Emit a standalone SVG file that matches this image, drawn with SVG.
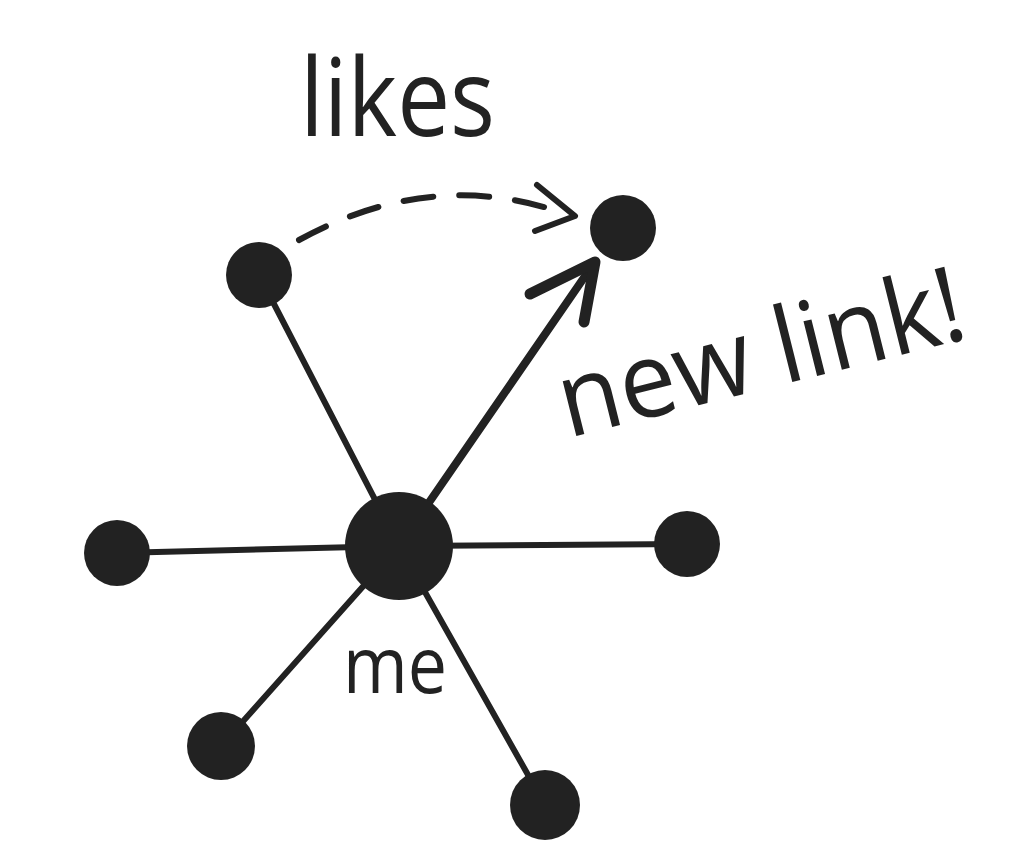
<svg xmlns="http://www.w3.org/2000/svg" width="1024" height="865" viewBox="0 0 1024 865">
<style>
.edge{stroke:#222;stroke-width:6;stroke-linecap:round;fill:none}
.node{fill:#222}
.lbl{font-family:"Open Sans","Liberation Sans",sans-serif;fill:#222}
</style>
<rect width="1024" height="865" fill="#fff"/>
<g id="connectors">
<line class="edge" x1="259" y1="275" x2="399" y2="546"/>
<line class="edge" x1="117" y1="553" x2="399" y2="546"/>
<line class="edge" x1="687" y1="544" x2="399" y2="546"/>
<line class="edge" x1="221" y1="746" x2="399" y2="546"/>
<line class="edge" x1="545" y1="805" x2="399" y2="546"/>
<line class="edge" style="stroke-width:8" x1="399" y1="546" x2="592" y2="266"/>
<polyline class="edge" style="stroke-width:11;stroke-linejoin:round" points="530,294 595,262 584,322"/>
<path class="edge" style="stroke-width:6;stroke-dasharray:30 26" d="M299,240 Q430,168 560,212"/>
<polyline class="edge" style="stroke-width:6;stroke-linejoin:round" points="537,185 575,216 535,231"/>
</g>
<g id="node-top-left"><circle class="node" cx="259" cy="275" r="33"/></g>
<g id="node-top-right"><circle class="node" cx="623" cy="228" r="33"/></g>
<g id="node-left"><circle class="node" cx="117" cy="553" r="33"/></g>
<g id="node-right"><circle class="node" cx="687" cy="544" r="33"/></g>
<g id="node-bottom-left"><circle class="node" cx="221" cy="746" r="34"/></g>
<g id="node-bottom-right"><circle class="node" cx="545" cy="805" r="35"/></g>
<g id="node-me"><circle class="node" cx="399" cy="546" r="54"/>
<text class="lbl" x="343" y="693" font-size="78" textLength="104" lengthAdjust="spacingAndGlyphs">me</text></g>
<g id="label-likes"><text class="lbl" x="300" y="136" font-size="108" textLength="195" lengthAdjust="spacingAndGlyphs">likes</text></g>
<g id="label-new-link"><text class="lbl" transform="translate(568,438) rotate(-14)" font-size="105" textLength="415" lengthAdjust="spacingAndGlyphs">new link!</text></g>
</svg>
